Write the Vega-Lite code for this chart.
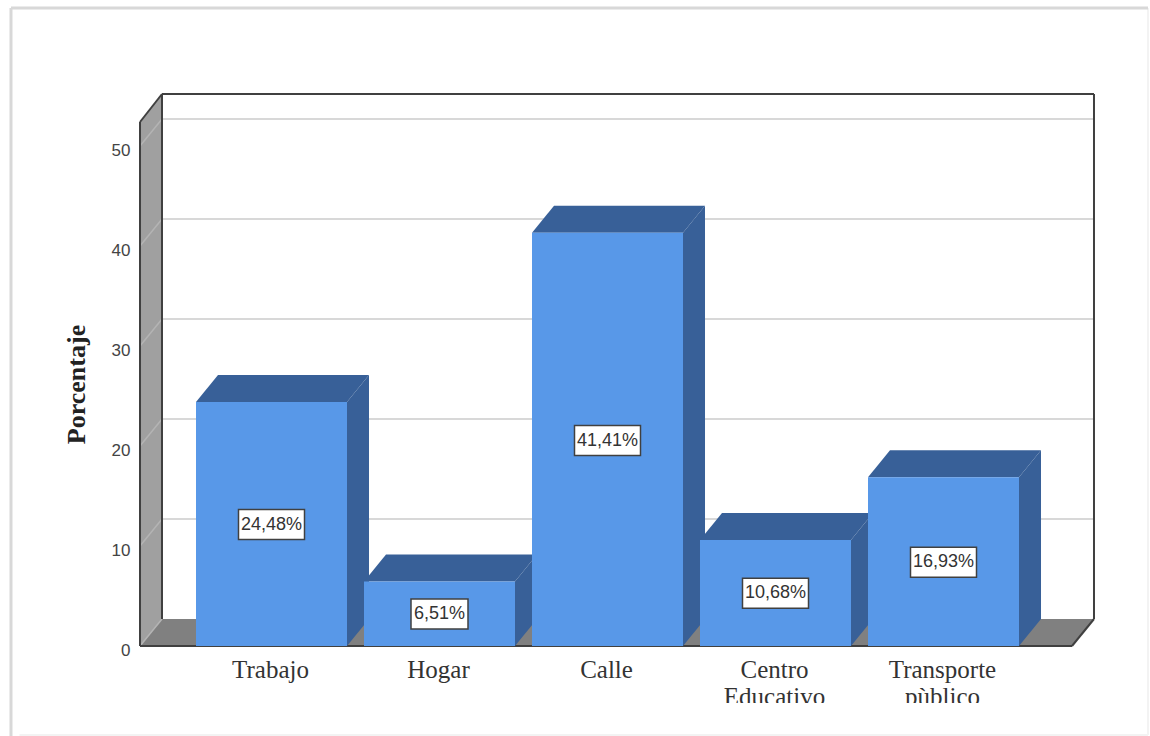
{
"$schema":"https://vega.github.io/schema/vega-lite/v6.json",
"width":954,"height":609,
"autosize":{"type":"none"},
"padding":{"left":140,"top":94,"right":56,"bottom":33},
"background":"white",
"config":{"view":{"stroke":null}},
"datasets":{
"bars":[
{"categoria":"Trabajo","etiqueta":"Trabajo","orden":0,"porcentaje":24.48,"medio":12.15,"rotulo":"24,48%"},
{"categoria":"Hogar","etiqueta":"Hogar","orden":1,"porcentaje":6.51,"medio":3.2,"rotulo":"6,51%"},
{"categoria":"Calle","etiqueta":"Calle","orden":2,"porcentaje":41.41,"medio":20.55,"rotulo":"41,41%"},
{"categoria":"Centro Educativo","etiqueta":"Centro\nEducativo","orden":3,"porcentaje":10.68,"medio":5.28,"rotulo":"10,68%"},
{"categoria":"Transporte público","etiqueta":"Transporte\npùblico","orden":4,"porcentaje":16.93,"medio":8.38,"rotulo":"16,93%"}
],
"walls":[
{"cara":"pared","tono":"pared","u":-0.7827,"lo":0,"hi":52.4},
{"cara":"pared","tono":"pared","u":-0.6518,"lo":2.7,"hi":55.2},
{"cara":"suelo","tono":"suelo","u":-0.7827,"lo":0,"hi":0},
{"cara":"suelo","tono":"suelo","u":-0.6518,"lo":0,"hi":2.7},
{"cara":"suelo","tono":"suelo","u":4.7649,"lo":0,"hi":2.7},
{"cara":"suelo","tono":"suelo","u":4.8958,"lo":2.7,"hi":2.7}
],
"faces":[
{"cara":"a1","tono":"lado","u":0.4494,"lo":0,"hi":24.4},
{"cara":"a1","tono":"lado","u":0.5804,"lo":2.7,"hi":27.1},
{"cara":"a2","tono":"lado","u":-0.4494,"lo":24.4,"hi":24.4},
{"cara":"a2","tono":"lado","u":-0.3184,"lo":24.4,"hi":27.1},
{"cara":"a2","tono":"lado","u":0.4494,"lo":24.4,"hi":27.1},
{"cara":"a2","tono":"lado","u":0.5804,"lo":27.1,"hi":27.1},
{"cara":"a3","tono":"frente","u":-0.4494,"lo":0,"hi":24.4},
{"cara":"a3","tono":"frente","u":0.4494,"lo":0,"hi":24.4},
{"cara":"b1","tono":"lado","u":1.4494,"lo":0,"hi":6.45},
{"cara":"b1","tono":"lado","u":1.5804,"lo":2.7,"hi":9.15},
{"cara":"b2","tono":"lado","u":0.5506,"lo":6.45,"hi":6.45},
{"cara":"b2","tono":"lado","u":0.6816,"lo":6.45,"hi":9.15},
{"cara":"b2","tono":"lado","u":1.4494,"lo":6.45,"hi":9.15},
{"cara":"b2","tono":"lado","u":1.5804,"lo":9.15,"hi":9.15},
{"cara":"b3","tono":"frente","u":0.5506,"lo":0,"hi":6.45},
{"cara":"b3","tono":"frente","u":1.4494,"lo":0,"hi":6.45},
{"cara":"c1","tono":"lado","u":2.4494,"lo":0,"hi":41.33},
{"cara":"c1","tono":"lado","u":2.5804,"lo":2.7,"hi":44.03},
{"cara":"c2","tono":"lado","u":1.5506,"lo":41.33,"hi":41.33},
{"cara":"c2","tono":"lado","u":1.6816,"lo":41.33,"hi":44.03},
{"cara":"c2","tono":"lado","u":2.4494,"lo":41.33,"hi":44.03},
{"cara":"c2","tono":"lado","u":2.5804,"lo":44.03,"hi":44.03},
{"cara":"c3","tono":"frente","u":1.5506,"lo":0,"hi":41.33},
{"cara":"c3","tono":"frente","u":2.4494,"lo":0,"hi":41.33},
{"cara":"d1","tono":"lado","u":3.4494,"lo":0,"hi":10.6},
{"cara":"d1","tono":"lado","u":3.5804,"lo":2.7,"hi":13.3},
{"cara":"d2","tono":"lado","u":2.5506,"lo":10.6,"hi":10.6},
{"cara":"d2","tono":"lado","u":2.6816,"lo":10.6,"hi":13.3},
{"cara":"d2","tono":"lado","u":3.4494,"lo":10.6,"hi":13.3},
{"cara":"d2","tono":"lado","u":3.5804,"lo":13.3,"hi":13.3},
{"cara":"d3","tono":"frente","u":2.5506,"lo":0,"hi":10.6},
{"cara":"d3","tono":"frente","u":3.4494,"lo":0,"hi":10.6},
{"cara":"e1","tono":"lado","u":4.4494,"lo":0,"hi":16.87},
{"cara":"e1","tono":"lado","u":4.5804,"lo":2.7,"hi":19.57},
{"cara":"e2","tono":"lado","u":3.5506,"lo":16.87,"hi":16.87},
{"cara":"e2","tono":"lado","u":3.6816,"lo":16.87,"hi":19.57},
{"cara":"e2","tono":"lado","u":4.4494,"lo":16.87,"hi":19.57},
{"cara":"e2","tono":"lado","u":4.5804,"lo":19.57,"hi":19.57},
{"cara":"e3","tono":"frente","u":3.5506,"lo":0,"hi":16.87},
{"cara":"e3","tono":"frente","u":4.4494,"lo":0,"hi":16.87}
],
"grid":[
{"u1":-0.6518,"v1":52.7,"u2":4.8958,"v2":52.7},
{"u1":-0.6518,"v1":42.7,"u2":4.8958,"v2":42.7},
{"u1":-0.6518,"v1":32.7,"u2":4.8958,"v2":32.7},
{"u1":-0.6518,"v1":22.7,"u2":4.8958,"v2":22.7},
{"u1":-0.6518,"v1":12.7,"u2":4.8958,"v2":12.7}
],
"wallgrid":[
{"u1":-0.7827,"v1":50,"u2":-0.6518,"v2":52.7},
{"u1":-0.7827,"v1":40,"u2":-0.6518,"v2":42.7},
{"u1":-0.7827,"v1":30,"u2":-0.6518,"v2":32.7},
{"u1":-0.7827,"v1":20,"u2":-0.6518,"v2":22.7},
{"u1":-0.7827,"v1":10,"u2":-0.6518,"v2":12.7},
{"u1":-0.7827,"v1":0,"u2":-0.6518,"v2":2.7}
],
"frame":[
{"u1":-0.7827,"v1":0,"u2":-0.7827,"v2":52.4},
{"u1":-0.7827,"v1":52.4,"u2":-0.6518,"v2":55.2},
{"u1":-0.6518,"v1":55.2,"u2":4.8958,"v2":55.2},
{"u1":-0.6518,"v1":55.2,"u2":-0.6518,"v2":2.7},
{"u1":4.8958,"v1":55.2,"u2":4.8958,"v2":2.7},
{"u1":4.8958,"v1":2.7,"u2":4.7649,"v2":0},
{"u1":4.7649,"v1":0,"u2":-0.7827,"v2":0}
],
"page":[
{"u1":-1.5506,"v1":63.8,"u2":5.2173,"v2":63.8},
{"u1":-1.5506,"v1":63.8,"u2":-1.5506,"v2":-9}
],
"pagefaint":[
{"u1":-1.5,"v1":-8.9,"u2":5.2173,"v2":-8.9},
{"u1":5.2173,"v1":63.8,"u2":5.2173,"v2":-8.9}
]
},
"layer":[
{"data":{"name":"pagefaint"},"mark":{"type":"rule","stroke":"#f3f3f3","strokeWidth":2},
"encoding":{"x":{"field":"u1","type":"quantitative","scale":{"domain":[-0.78274,4.89583],"nice":false,"zero":false},"axis":null},"x2":{"field":"u2"},
"y":{"field":"v1","type":"quantitative","scale":{"domain":[-5.7,55.2],"nice":false,"zero":false},
"axis":{"values":[0,10,20,30,40,50],"grid":false,"domain":false,"ticks":false,"labelPadding":10,"labelFont":"Liberation Sans","labelFontSize":17,"labelColor":"#444444","labelBaseline":"middle","labelOffset":4,"title":"Porcentaje","titleFont":"Liberation Serif","titleFontWeight":"bold","titleFontSize":26,"titleColor":"#222222","titleX":-64,"titleY":290,"titleAngle":270,"titleAlign":"center","titleBaseline":"middle"}},
"y2":{"field":"v2"}}},
{"data":{"name":"page"},"mark":{"type":"rule","stroke":"#d8d8d8","strokeWidth":3},
"encoding":{"x":{"field":"u1","type":"quantitative"},"x2":{"field":"u2"},"y":{"field":"v1","type":"quantitative"},"y2":{"field":"v2"}}},
{"data":{"name":"walls"},"mark":{"type":"area"},
"encoding":{"x":{"field":"u","type":"quantitative"},"y":{"field":"lo","type":"quantitative"},"y2":{"field":"hi"},"detail":{"field":"cara"},
"color":{"field":"tono","type":"nominal","legend":null,"scale":{"domain":["pared","suelo","lado","frente"],"range":["#a0a0a0","#808080","#386098","#5898e8"]}}}},
{"data":{"name":"grid"},"mark":{"type":"rule","stroke":"#d8d8d8","strokeWidth":2},
"encoding":{"x":{"field":"u1","type":"quantitative"},"x2":{"field":"u2"},"y":{"field":"v1","type":"quantitative"},"y2":{"field":"v2"}}},
{"data":{"name":"wallgrid"},"mark":{"type":"rule","stroke":"#b4b4b4","strokeWidth":1.5},
"encoding":{"x":{"field":"u1","type":"quantitative"},"x2":{"field":"u2"},"y":{"field":"v1","type":"quantitative"},"y2":{"field":"v2"}}},
{"data":{"name":"frame"},"mark":{"type":"rule","stroke":"#404040","strokeWidth":2},
"encoding":{"x":{"field":"u1","type":"quantitative"},"x2":{"field":"u2"},"y":{"field":"v1","type":"quantitative"},"y2":{"field":"v2"}}},
{"data":{"name":"faces"},"mark":{"type":"area"},
"encoding":{"x":{"field":"u","type":"quantitative"},"y":{"field":"lo","type":"quantitative"},"y2":{"field":"hi"},"detail":{"field":"cara"},
"color":{"field":"tono","type":"nominal","legend":null,"scale":{"domain":["pared","suelo","lado","frente"],"range":["#a0a0a0","#808080","#386098","#5898e8"]}}}},
{"data":{"name":"bars"},"transform":[{"filter":"datum.porcentaje >= 10"}],"mark":{"type":"rect","width":66,"height":30,"fill":"white","stroke":"#404040","strokeWidth":1.5},
"encoding":{"x":{"field":"orden","type":"quantitative"},"y":{"field":"medio","type":"quantitative"}}},
{"data":{"name":"bars"},"transform":[{"filter":"datum.porcentaje < 10"}],"mark":{"type":"rect","width":57,"height":30,"fill":"white","stroke":"#404040","strokeWidth":1.5},
"encoding":{"x":{"field":"orden","type":"quantitative"},"y":{"field":"medio","type":"quantitative"}}},
{"data":{"name":"bars"},"mark":{"type":"text","font":"Liberation Sans","fontSize":18,"color":"#333333","align":"center","baseline":"middle"},
"encoding":{"x":{"field":"orden","type":"quantitative"},"y":{"field":"medio","type":"quantitative"},"text":{"field":"rotulo"}}},
{"data":{"name":"bars"},"mark":{"type":"text","font":"Liberation Serif","fontSize":25,"color":"#333333","align":"center","baseline":"alphabetic","dx":-1,"dy":32,"lineBreak":"\n","lineHeight":27,"clip":true},
"encoding":{"x":{"field":"orden","type":"quantitative"},"y":{"datum":0,"type":"quantitative"},"text":{"field":"etiqueta"}}}
]
}
